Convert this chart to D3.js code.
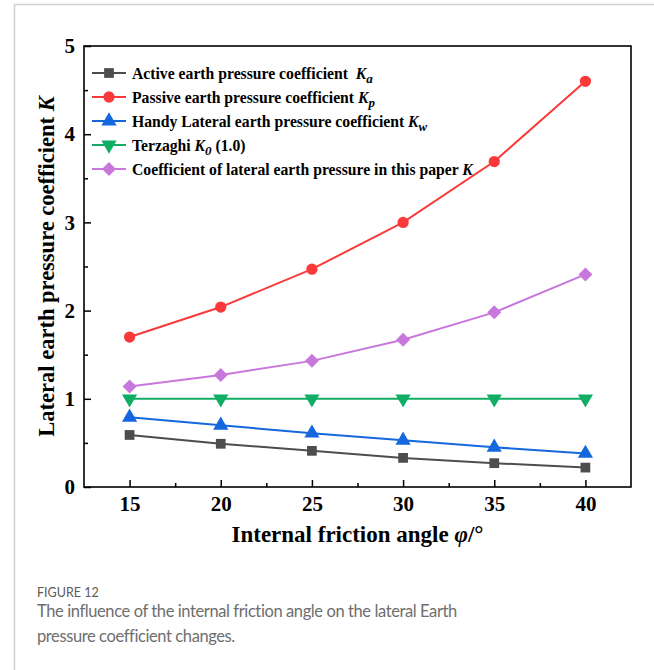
<!DOCTYPE html>
<html>
<head>
<meta charset="utf-8">
<script src="https://cdn.jsdelivr.net/npm/d3@7"></script>
<style>
  html, body { margin: 0; padding: 0; background: #fff; }
  svg { display: block; }
</style>
</head>
<body>
<svg id="chart" width="654" height="670"></svg>
<script>
// data
const angles = [15, 20, 25, 30, 35, 40];
const activeKa = [0.59, 0.49, 0.41, 0.33, 0.27, 0.22];
const passiveKp = [1.70, 2.04, 2.47, 3.00, 3.69, 4.60];
const handyKw = [0.79, 0.70, 0.61, 0.53, 0.45, 0.38];
const terzaghiK0 = [1.0, 1.0, 1.0, 1.0, 1.0, 1.0];
const paperK = [1.14, 1.27, 1.43, 1.67, 1.98, 2.41];

const xMajor = [15, 20, 25, 30, 35, 40];
const xMinor = [17.5, 22.5, 27.5, 32.5, 37.5];
const yMajor = [0, 1, 2, 3, 4, 5];
const yMinor = [0.5, 1.5, 2.5, 3.5, 4.5];

const series = [
  { name: "Active earth pressure coefficient  ", k: "K", sub: "a", values: activeKa, color: "#4d4d4d", shape: d3.symbolSquare, size: 95, rot: 0 },
  { name: "Passive earth pressure coefficient ", k: "K", sub: "p", values: passiveKp, color: "#fa3a3a", shape: d3.symbolCircle, size: 100, rot: 0 },
  { name: "Handy Lateral earth pressure coefficient ", k: "K", sub: "w", values: handyKw, color: "#1467dc", shape: d3.symbolTriangle, size: 100, rot: 0 },
  { name: "Terzaghi ", k: "K", sub: "0", tail: " (1.0)", values: terzaghiK0, color: "#12ad64", shape: d3.symbolTriangle, size: 100, rot: 180 },
  { name: "Coefficient of lateral earth pressure in this paper ", k: "K", sub: "", values: paperK, color: "#c878dc", shape: d3.symbolSquare, size: 98, rot: 45 }
];

const margin = { left: 84, top: 46, right: 631, bottom: 487 };
const serif = "'Liberation Serif', 'Times New Roman', serif";

const svg = d3.select("#chart");

// page border (left / top)
svg.append("path")
  .attr("d", "M14.5,670 V4.5 H654")
  .attr("fill", "none")
  .attr("stroke", "#cfcfcf")
  .attr("stroke-width", 1.5);

const x = d3.scaleLinear().domain([12.5, 42.5]).range([margin.left, margin.right]);
const y = d3.scaleLinear().domain([0, 5]).range([margin.bottom, margin.top]);

// x axis, ticks inward
svg.append("g")
  .attr("transform", `translate(0,${margin.bottom})`)
  .call(d3.axisBottom(x).tickValues(xMajor).tickSize(-7).tickPadding(9).tickFormat(d3.format("d")));
svg.append("g")
  .attr("transform", `translate(0,${margin.bottom})`)
  .call(d3.axisBottom(x).tickValues(xMinor).tickSize(-4).tickFormat(""));

// y axis, ticks inward
svg.append("g")
  .attr("transform", `translate(${margin.left},0)`)
  .call(d3.axisLeft(y).tickValues(yMajor).tickSize(-7).tickPadding(9).tickFormat(d3.format("d")));
svg.append("g")
  .attr("transform", `translate(${margin.left},0)`)
  .call(d3.axisLeft(y).tickValues(yMinor).tickSize(-4).tickFormat(""));

svg.selectAll(".domain").remove();
svg.selectAll(".tick line").attr("stroke", "#000").attr("stroke-width", 1.5);
svg.selectAll(".tick text")
  .attr("font-family", serif)
  .attr("font-weight", "bold")
  .attr("font-size", 21)
  .attr("fill", "#000");

// frame
svg.append("rect")
  .attr("x", margin.left)
  .attr("y", margin.top)
  .attr("width", margin.right - margin.left)
  .attr("height", margin.bottom - margin.top)
  .attr("fill", "none")
  .attr("stroke", "#000")
  .attr("stroke-width", 1.6);

// axis titles
const xt = svg.append("text")
  .attr("x", (margin.left + margin.right) / 2)
  .attr("y", 542)
  .attr("text-anchor", "middle")
  .attr("font-family", serif)
  .attr("font-weight", "bold")
  .attr("font-size", 23);
xt.append("tspan").text("Internal friction angle ");
xt.append("tspan").attr("font-style", "italic").text("φ");
xt.append("tspan").text("/°");

const yt = svg.append("text")
  .attr("transform", `translate(54,${(margin.top + margin.bottom) / 2})rotate(-90)`)
  .attr("text-anchor", "middle")
  .attr("font-family", serif)
  .attr("font-weight", "bold")
  .attr("font-size", 22.5);
yt.append("tspan").text("Lateral earth pressure coefficient ");
yt.append("tspan").attr("font-style", "italic").text("K");

// lines and markers
const line = d3.line().x((d, i) => x(angles[i])).y(d => y(d));

series.forEach(s => {
  svg.append("path")
    .datum(s.values)
    .attr("d", line)
    .attr("fill", "none")
    .attr("stroke", s.color)
    .attr("stroke-width", 2);

  svg.append("g")
    .selectAll("path")
    .data(s.values)
    .join("path")
    .attr("d", d3.symbol().type(s.shape).size(s.size))
    .attr("transform", (d, i) => `translate(${x(angles[i])},${y(d)})rotate(${s.rot})`)
    .attr("fill", s.color);
});

// legend
const legend = svg.append("g").attr("transform", "translate(92,73)");
series.forEach((s, i) => {
  const row = legend.append("g").attr("transform", `translate(0,${i * 24})`);
  row.append("line")
    .attr("x1", 0).attr("x2", 34)
    .attr("stroke", s.color)
    .attr("stroke-width", 2);
  row.append("path")
    .attr("d", d3.symbol().type(s.shape).size(s.size))
    .attr("transform", `translate(17,0)rotate(${s.rot})`)
    .attr("fill", s.color);
  const t = row.append("text")
    .attr("x", 40)
    .attr("y", 5.5)
    .attr("font-family", serif)
    .attr("font-weight", "bold")
    .attr("font-size", 15.7)
    .attr("xml:space", "preserve")
    .attr("fill", "#000");
  t.append("tspan").text(s.name);
  t.append("tspan").attr("font-style", "italic").text(s.k);
  if (s.sub) {
    t.append("tspan").attr("font-style", "italic").attr("font-size", 13).attr("dy", 4).text(s.sub);
    if (s.tail) t.append("tspan").attr("dy", -4).text(s.tail);
  }
});

// caption
const capFont = "Lato, 'Open Sans', sans-serif";
svg.append("text")
  .attr("x", 37)
  .attr("y", 597)
  .attr("font-family", capFont)
  .attr("font-size", 12.5)
  .attr("fill", "#5a5a5a")
  .text("FIGURE 12");
svg.append("text")
  .attr("x", 37)
  .attr("y", 617)
  .attr("font-family", capFont)
  .attr("font-size", 16.5)
  .attr("letter-spacing", -0.4)
  .attr("fill", "#6e6e6e")
  .text("The influence of the internal friction angle on the lateral Earth");
svg.append("text")
  .attr("x", 37)
  .attr("y", 642)
  .attr("font-family", capFont)
  .attr("font-size", 16.5)
  .attr("letter-spacing", -0.4)
  .attr("fill", "#6e6e6e")
  .text("pressure coefficient changes.");
</script>
</body>
</html>
